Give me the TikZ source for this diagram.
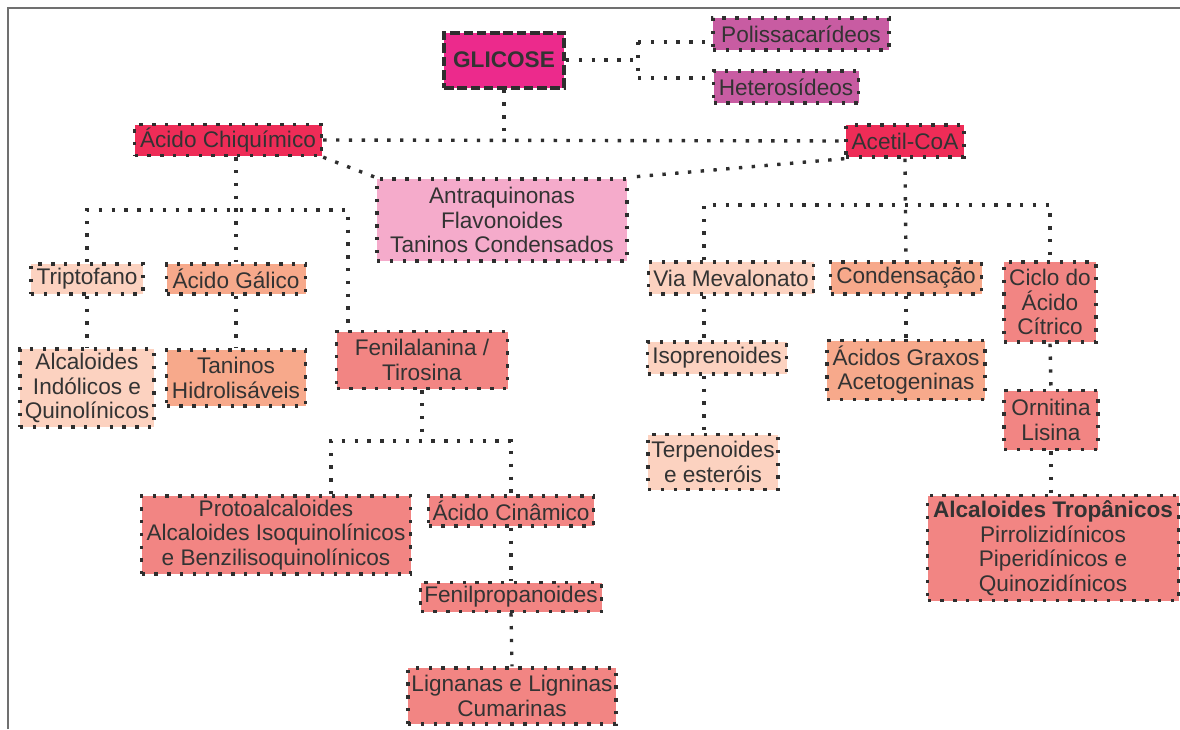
\documentclass[tikz,border=0pt]{standalone}
\usepackage{fontspec}
\setmainfont{Liberation Sans}
\usepackage{tikz}
\usepackage{xcolor}
\usetikzlibrary{
    calc,
    positioning
}

\definecolor{texto}{HTML}{333333}
\definecolor{pontos}{HTML}{2E2E2E}
\definecolor{moldura}{HTML}{707070}
\definecolor{rosaforte}{HTML}{EC2A8C}
\definecolor{roxo}{HTML}{C85CA2}
\definecolor{carmim}{HTML}{EE2C57}
\definecolor{rosaclaro}{HTML}{F5ABCB}
\definecolor{pessego}{HTML}{FCD2C0}
\definecolor{salmao}{HTML}{F7A98B}
\definecolor{coral}{HTML}{F28583}

\begin{document}
\begin{tikzpicture}[x=1pt, y=-1pt,
    caixa/.style={draw=pontos, line width=3.4pt, dash pattern=on 3.4pt off 9.4pt,
        text=texto, align=center, inner sep=0pt,
        font=\fontsize{22.6}{24.5}\selectfont},
    ligacao/.style={draw=pontos, line width=3.4pt, dash pattern=on 3.4pt off 9.4pt}]
                        \useasboundingbox (0,0) rectangle (1180,729);
                        \draw[moldura, line width=1.5pt] (8,729) -- (8,8) -- (1180,8);

                        % topo
                        \node[caixa, fill=rosaforte, dash pattern=on 9.5pt off 3.8pt, line width=4pt,
                            minimum width=120, minimum height=55, font=\fontsize{22.6}{24.5}\selectfont\bfseries]
                            (glicose) at (504,60) {GLICOSE};
                        \node[caixa, fill=roxo, minimum width=176, minimum height=32] (polis) at (801,34) {Polissacarídeos};
                        \node[caixa, fill=roxo, minimum width=145, minimum height=32] (hetero) at (786,87) {Heterosídeos};
                        \node[caixa, fill=carmim, minimum width=187, minimum height=31] (chiq) at (228,140) {Ácido Chiquímico};
                        \node[caixa, fill=carmim, minimum width=118, minimum height=32] (acetil) at (905,141) {Acetil-CoA};
                        \node[caixa, fill=rosaclaro, minimum width=250, minimum height=82] (antra) at (502,220)
                            {Antraquinonas\\Flavonoides\\Taninos Condensados};

                        % via do chiquimato
                        \node[caixa, fill=pessego, minimum width=112, minimum height=30] (tripto) at (87,279) {Triptofano};
                        \node[caixa, fill=salmao, minimum width=139, minimum height=30] (galico) at (236,279) {Ácido Gálico};
                        \node[caixa, fill=coral, minimum width=171, minimum height=57] (fenil) at (422,360) {Fenilalanina /\\Tirosina};
                        \node[caixa, fill=pessego, minimum width=134, minimum height=78] (alcind) at (87,388)
                            {Alcaloides\\Indólicos e\\Quinolínicos};
                        \node[caixa, fill=salmao, minimum width=139, minimum height=56] (taninos) at (236,378) {Taninos\\Hidrolisáveis};
                        \node[caixa, fill=coral, minimum width=269, minimum height=78] (proto) at (276,535)
                            {Protoalcaloides\\Alcaloides Isoquinolínicos\\e Benzilisoquinolínicos};
                        \node[caixa, fill=coral, minimum width=165, minimum height=30] (cinam) at (511,511) {Ácido Cinâmico};
                        \node[caixa, fill=coral, minimum width=181, minimum height=29] (fenilprop) at (511,597) {Fenilpropanoides};
                        \node[caixa, fill=coral, minimum width=208, minimum height=56] (lignanas) at (512,696)
                            {Lignanas e Ligninas\\Cumarinas};

                        % via do acetato
                        \node[caixa, fill=pessego, minimum width=165, minimum height=32] (viamev) at (731,278) {Via Mevalonato};
                        \node[caixa, fill=salmao, minimum width=151, minimum height=32] (conden) at (906,278) {Condensação};
                        \node[caixa, fill=coral, minimum width=92, minimum height=80] (ciclo) at (1050,302) {Ciclo do\\Ácido\\Cítrico};
                        \node[caixa, fill=pessego, minimum width=139, minimum height=32] (isopren) at (717,358) {Isoprenoides};
                        \node[caixa, fill=salmao, minimum width=158, minimum height=59] (graxos) at (906,370)
                            {Ácidos Graxos\\Acetogeninas};
                        \node[caixa, fill=coral, minimum width=94, minimum height=59] (ornitina) at (1051,420) {Ornitina\\Lisina};
                        \node[caixa, fill=pessego, minimum width=130, minimum height=55] (terpen) at (713,462)
                            {Terpenoides\\e esteróis};
                        \node[caixa, fill=coral, minimum width=251, minimum height=105] (tropan) at (1053,548)
                            {\textbf{Alcaloides Tropânicos}\\Pirrolizidínicos\\Piperidínicos e\\Quinozidínicos};

                        % ligacoes do topo
                        \coordinate (gforkA) at (638,42);
                        \coordinate (gforkB) at (638,78);
                        \draw[ligacao] (glicose.east) -- (glicose.east -| gforkA);
                        \draw[ligacao] (gforkA) -- (gforkB);
                        \draw[ligacao] (gforkA) -- (gforkA -| polis.west);
                        \draw[ligacao] (gforkB) -- (gforkB -| hetero.west);
                        \draw[ligacao] (chiq.east) -- (acetil.west);
                        \draw[ligacao] (glicose.south) -- (glicose.south |- chiq.east);
                        \draw[ligacao] (chiq.south east) -- (antra.north west);
                        \draw[ligacao] (acetil.south west) -- (antra.north east);

                        % ligacoes do chiquimato
                        \coordinate (chiqbus) at (236,210);
                        \draw[ligacao] (tripto.north) |- (chiqbus) -| ([xshift=-74pt]fenil.north);
                        \draw[ligacao] (chiq.south -| galico.north) -- (galico.north);
                        \draw[ligacao] (tripto.south) -- (alcind.north);
                        \draw[ligacao] (galico.south) -- (taninos.north);
                        \coordinate (fenilbus) at (422,441);
                        \draw[ligacao] (fenil.south) -- (fenilbus);
                        \draw[ligacao] ([xshift=55pt]proto.north) |- (fenilbus) -| (cinam.north);
                        \draw[ligacao] (cinam.south) -- (fenilprop.north);
                        \draw[ligacao] (fenilprop.south) -- (lignanas.north);

                        % ligacoes do acetato
                        \coordinate (acetilbus) at (906,205);
                        \draw[ligacao] (acetil.south) -- (conden.north);
                        \draw[ligacao] ([xshift=-27pt]viamev.north) |- (acetilbus) -| (ciclo.north);
                        \draw[ligacao] ([xshift=-27pt]viamev.south) -- ([xshift=-13pt]isopren.north);
                        \draw[ligacao] ([xshift=-13pt]isopren.south) -- ([xshift=-9pt]terpen.north);
                        \draw[ligacao] (conden.south) -- (graxos.north);
                        \draw[ligacao] (ciclo.south) -- (ornitina.north);
                        \draw[ligacao] (ornitina.south) -- (ornitina.south |- tropan.north);
                    \end{tikzpicture}
\end{document}
